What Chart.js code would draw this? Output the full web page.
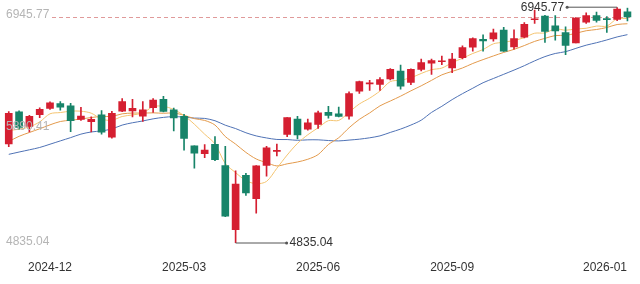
<!DOCTYPE html>
<html>
<head>
<meta charset="utf-8">
<script src="https://cdn.jsdelivr.net/npm/chart.js@4/dist/chart.umd.min.js"></script>
<style>
html,body{margin:0;padding:0;background:#fff;}
#wrap{position:relative;width:640px;height:284px;}
</style>
</head>
<body>
<div id="wrap"><canvas id="c"></canvas></div>
<script>
const categories = [
'2024-11-08','2024-11-15','2024-11-22','2024-11-29','2024-12-06','2024-12-13','2024-12-20','2024-12-27',
'2025-01-03','2025-01-10','2025-01-17','2025-01-24','2025-01-31','2025-02-07','2025-02-14','2025-02-21','2025-02-28',
'2025-03-07','2025-03-14','2025-03-21','2025-03-28','2025-04-04','2025-04-11','2025-04-18','2025-04-25',
'2025-05-02','2025-05-09','2025-05-16','2025-05-23','2025-05-30','2025-06-06','2025-06-13','2025-06-20','2025-06-27',
'2025-07-04','2025-07-11','2025-07-18','2025-07-25','2025-08-01','2025-08-08','2025-08-15','2025-08-22','2025-08-29',
'2025-09-05','2025-09-12','2025-09-19','2025-09-26','2025-10-03','2025-10-10','2025-10-17','2025-10-24','2025-10-31',
'2025-11-07','2025-11-14','2025-11-21','2025-11-28','2025-12-05','2025-12-12','2025-12-19','2025-12-26','2026-01-02'
];
const openP = [
5722.4,6008.9,5878.5,5982.9,6040.1,6083.0,6063.8,5940.3,5920.7,5982.8,5782.0,6014.1,6018.0,5969.7,6046.4,6121.6,6026.7,
5968.3,5705.4,5635.6,5718.1,5527.9,4953.8,5441.0,5232.9,5529.0,5655.3,5807.5,5944.6,5854.1,5896.7,6004.6,5991.0,5969.7,
6193.4,6259.0,6255.2,6304.7,6374.3,6271.7,6388.6,6445.0,6457.7,6401.5,6494.2,6588.5,6657.1,6661.6,6740.3,6591.3,6676.7,
6833.4,6867.0,6778.0,6718.0,6627.0,6812.6,6871.2,6844.1,6837.0,6905.0
];
const highP = [
6012.5,6017.3,5977.9,6044.2,6099.0,6100.8,6085.2,6049.8,5965.0,6021.0,6014.0,6128.2,6120.9,6101.3,6127.5,6147.4,6043.7,
5986.1,5705.4,5715.3,5786.9,5700.0,5481.3,5459.5,5528.1,5700.7,5720.1,5958.6,5968.6,5944.2,6016.9,6059.4,6050.8,6187.7,
6284.7,6290.2,6315.6,6395.8,6427.0,6395.2,6481.3,6481.3,6508.2,6532.7,6600.2,6672.7,6699.5,6750.9,6764.6,6744.3,6807.1,
6920.3,6872.6,6869.9,6771.0,6853.1,6895.8,6901.0,6861.0,6945.77,6937.0
];
const lowP = [
5696.5,5853.0,5830.0,5956.2,6030.0,6024.0,5832.3,5932.9,5829.5,5809.7,5773.3,6009.9,5962.9,5923.9,6003.0,6008.6,5837.7,
5666.3,5504.7,5597.8,5572.4,5069.9,4835.04,5262.0,5101.6,5433.2,5615.0,5786.1,5767.4,5845.0,5861.0,5952.6,5963.2,5943.2,
6174.0,6201.3,6201.6,6294.2,6212.7,6251.9,6374.4,6343.9,6430.7,6360.6,6483.1,6551.2,6551.3,6641.3,6550.8,6570.2,6670.0,
6799.7,6631.4,6650.2,6521.2,6625.7,6799.9,6811.7,6721.0,6825.9,6824.0
];
const closeP = [
5995.5,5870.6,5969.3,6032.4,6090.3,6051.1,5930.9,5970.8,5942.5,5827.0,5996.7,6101.2,6040.5,6026.0,6114.6,6013.1,5954.5,
5770.2,5638.9,5667.6,5580.9,5074.1,5363.4,5282.7,5525.2,5686.7,5659.9,5958.4,5802.8,5911.7,6000.4,5977.0,5967.8,6173.1,
6279.4,6259.8,6297.0,6388.6,6238.0,6389.5,6449.8,6466.9,6460.3,6481.5,6584.3,6664.4,6643.7,6715.8,6552.5,6664.0,6791.7,
6840.2,6728.8,6734.1,6603.0,6849.1,6870.4,6827.4,6834.5,6929.9,6858.5
];
const ma5 = [
5842.4,5853.5,5874.5,5919.3,5991.6,6002.7,6014.8,6015.1,5997.1,5944.5,5933.6,5967.6,5981.6,5998.3,6055.8,6059.1,6029.7,
5975.7,5898.3,5808.9,5722.4,5546.3,5465.0,5393.7,5365.3,5386.4,5503.6,5622.6,5726.6,5803.9,5866.6,5930.1,5931.9,6006.0,
6079.5,6131.4,6195.4,6279.6,6292.6,6314.6,6352.6,6386.6,6400.9,6449.6,6488.6,6531.5,6566.8,6617.9,6632.1,6648.1,6673.5,
6712.8,6715.4,6751.8,6739.6,6751.0,6757.1,6776.8,6776.9,6842.3,6844.1
];
const ma10 = [
5743.8,5790.1,5824.4,5857.4,5892.6,5922.6,5934.2,5944.8,5958.2,5968.0,5968.2,5991.2,5998.3,5997.7,6000.1,5996.3,5998.7,
5978.6,5948.3,5932.3,5890.8,5788.0,5720.3,5646.0,5587.1,5554.4,5525.0,5543.8,5560.2,5584.6,5626.5,5716.8,5777.3,5866.3,
5941.7,5999.0,6062.7,6105.8,6149.3,6197.1,6242.0,6291.0,6340.2,6371.1,6401.6,6442.0,6476.7,6509.4,6540.9,6568.3,6602.5,
6639.8,6666.7,6692.0,6693.8,6712.3,6735.0,6746.1,6764.3,6790.9,6797.6
];
const ma20 = [
5628.7,5649.2,5669.3,5690.1,5719.4,5749.0,5778.2,5809.6,5829.0,5838.6,5856.0,5890.6,5911.4,5927.5,5946.4,5959.5,5966.4,
5961.7,5953.2,5950.2,5929.5,5889.6,5859.3,5821.9,5793.6,5775.4,5761.8,5761.2,5754.2,5758.5,5758.6,5752.4,5748.8,5756.2,
5764.4,5776.7,5793.9,5824.8,5854.7,5890.8,5934.3,6003.9,6058.8,6118.7,6171.6,6220.5,6269.7,6307.6,6345.1,6382.7,6422.3,
6465.4,6503.5,6531.5,6547.7,6577.2,6605.8,6627.8,6652.6,6679.6,6700.1
];
const yTickValues = [6945.77, 5890.41, 4835.04];
const yTickLabels = ['6945.77', '5890.41', '4835.04'];
const xTickLabels = ['2024-12', '2025-03', '2025-06', '2025-09', '2026-01'];

const UP = '#d51f31', DOWN = '#178469';
const candleColors = closeP.map((c, i) => c >= openP[i] ? UP : DOWN);
const bodies = closeP.map((c, i) => [Math.min(openP[i], c), Math.max(openP[i], c)]);
const wicks = highP.map((h, i) => [lowP[i], h]);

const FONT = '"Liberation Sans", Arial, sans-serif';

const overlay = {
  id: 'overlay',
  beforeDatasetsDraw(chart) {
    const ctx = chart.ctx, ys = chart.scales.y, ca = chart.chartArea;
    const yy = ys.getPixelForValue(closeP[closeP.length - 1]);
    ctx.save();
    ctx.strokeStyle = 'rgba(214,120,120,0.75)';
    ctx.lineWidth = 1;
    ctx.setLineDash([4, 3]);
    ctx.beginPath();
    ctx.moveTo(52, Math.round(yy) + 0.5);
    ctx.lineTo(ca.right, Math.round(yy) + 0.5);
    ctx.stroke();
    ctx.restore();
  },
  afterDatasetsDraw(chart) {
    const ctx = chart.ctx, xs = chart.scales.x, ys = chart.scales.y;
    ctx.save();
    // y labels (inside, left)
    ctx.font = '12px ' + FONT;
    ctx.fillStyle = '#b5b5b5';
    ctx.textAlign = 'left';
    ctx.textBaseline = 'alphabetic';
    const offs = [10.5, 4.8, 1.5];
    yTickValues.forEach((v, k) => {
      ctx.fillText(yTickLabels[k], 6, ys.getPixelForValue(v) + offs[k]);
    });
    // x labels
    ctx.fillStyle = '#333';
    ctx.textBaseline = 'middle';
    xTickLabels.forEach(lab => {
      const idx = categories.findIndex(d => d.startsWith(lab));
      if (idx < 0) return;
      let px = xs.getPixelForValue(idx);
      const w = ctx.measureText(lab).width;
      if (px + w / 2 > 627) px = 627 - w / 2;
      ctx.textAlign = 'center';
      ctx.fillText(lab, px, 268);
    });
    // max annotation
    let hi = 0, lo = 0;
    highP.forEach((h, i) => { if (h > highP[hi]) hi = i; });
    lowP.forEach((l, i) => { if (l < lowP[lo]) lo = i; });
    ctx.strokeStyle = '#555';
    ctx.fillStyle = '#555';
    ctx.lineWidth = 1;
    const hx = xs.getPixelForValue(hi), hy = ys.getPixelForValue(highP[hi]);
    ctx.beginPath();
    ctx.moveTo(hx - 50, hy);
    ctx.lineTo(hx, hy);
    ctx.stroke();
    ctx.beginPath(); ctx.arc(hx - 50, hy, 1.5, 0, Math.PI * 2); ctx.fill();
    ctx.fillStyle = '#333';
    ctx.textAlign = 'right';
    ctx.textBaseline = 'middle';
    ctx.font = '12px ' + FONT;
    ctx.fillText(highP[hi].toFixed(2), hx - 53, hy + 0.5);
    // min annotation
    const lx = xs.getPixelForValue(lo), ly = ys.getPixelForValue(lowP[lo]);
    ctx.fillStyle = '#555';
    ctx.beginPath();
    ctx.moveTo(lx, ly);
    ctx.lineTo(lx + 51, ly);
    ctx.stroke();
    ctx.beginPath(); ctx.arc(lx + 51, ly, 1.5, 0, Math.PI * 2); ctx.fill();
    ctx.fillStyle = '#333';
    ctx.textAlign = 'left';
    ctx.fillText(lowP[lo].toFixed(2), lx + 54, ly);
    ctx.restore();
  }
};

new Chart(document.getElementById('c'), {
  type: 'bar',
  data: {
    labels: categories,
    datasets: [
      { type: 'line', label: 'MA5', data: ma5, borderColor: '#f4c470', borderWidth: 1, pointRadius: 0, tension: 0.3, order: 3 },
      { type: 'line', label: 'MA10', data: ma10, borderColor: '#e39a4c', borderWidth: 1, pointRadius: 0, tension: 0.3, order: 4 },
      { type: 'line', label: 'MA20', data: ma20, borderColor: '#4f72b5', borderWidth: 1, pointRadius: 0, tension: 0.3, order: 5 },
      { label: 'wick', data: wicks, backgroundColor: candleColors, barThickness: 1, grouped: false, order: 2, minBarLength: 1 },
      { label: 'body', data: bodies, backgroundColor: candleColors, barThickness: 7, grouped: false, order: 1, minBarLength: 1 }
    ]
  },
  options: {
    responsive: true,
    maintainAspectRatio: false,
    animation: false,
    layout: { padding: { left: 3.6, right: 7.4, top: 7.2, bottom: 41 } },
    plugins: { legend: { display: false }, tooltip: { enabled: false } },
    scales: {
      x: { display: false, offset: true, grid: { display: false } },
      y: { display: false, min: yTickValues[2], max: yTickValues[0] }
    }
  },
  plugins: [overlay]
});
</script>
</body>
</html>
